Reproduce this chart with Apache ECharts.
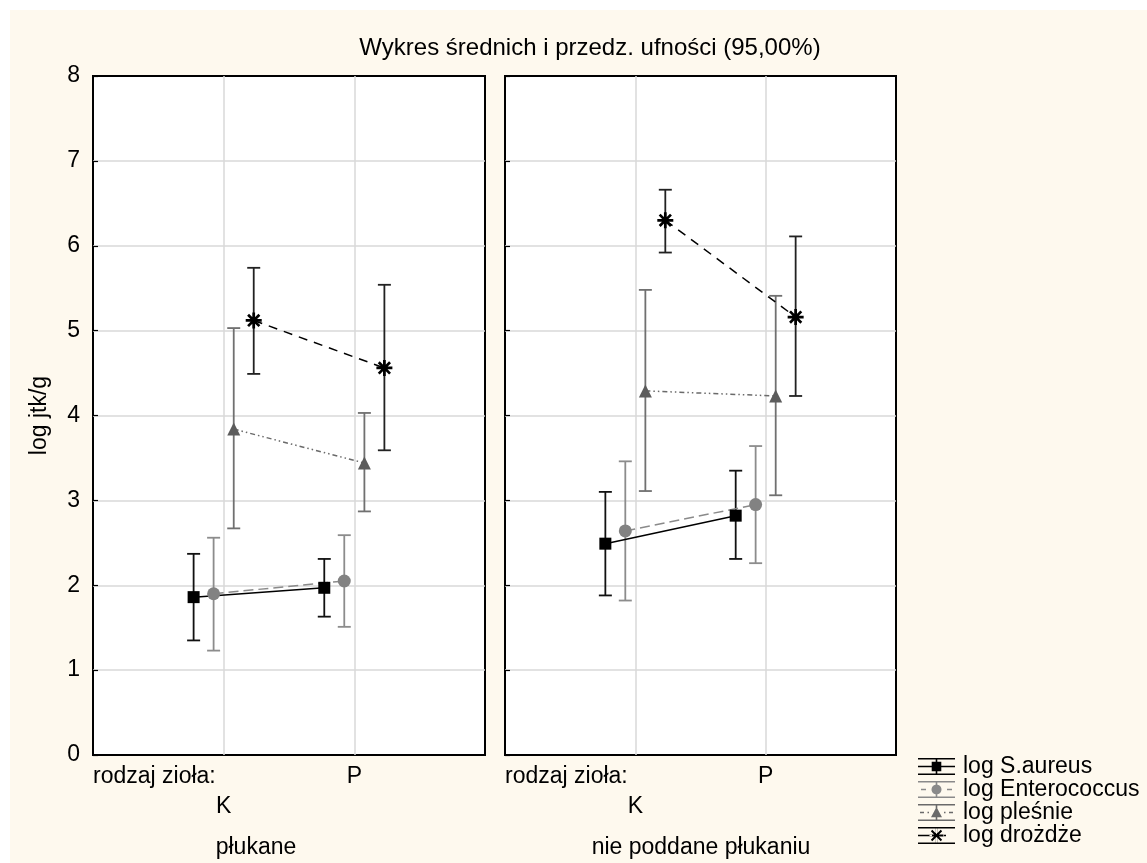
<!DOCTYPE html>
<html>
<head>
<meta charset="utf-8">
<script src="https://cdn.jsdelivr.net/npm/echarts@6/dist/echarts.min.js"></script>
<style>
  html, body { margin: 0; padding: 0; background: #ffffff; }
  #wrap { position: relative; width: 1147px; height: 863px; overflow: hidden; }
  #paper { position: absolute; left: 10px; top: 10px; right: 0; bottom: 0; background: #FEF9EE; }
  #chart { position: absolute; left: 0; top: 0; width: 1147px; height: 863px; }
</style>
</head>
<body>
<div id="wrap"><div id="paper"></div><div id="chart"></div></div>
<script>
// ---------------- data ----------------
const titleText = 'Wykres średnich i przedz. ufności (95,00%)';
const yAxisTitle = 'log jtk/g';
const factorLabel = 'rodzaj zioła:';
const categories = ['K', 'P'];
const groups = ['płukane', 'nie poddane płukaniu'];
const seriesNames = ['log S.aureus', 'log Enterococcus', 'log pleśnie', 'log drożdże'];
const yTicks = [0, 1, 2, 3, 4, 5, 6, 7, 8];

// order of values: [płukane K, płukane P, nie poddane K, nie poddane P]
const sAureusMean = [1.86, 1.97, 2.49, 2.82];
const sAureusLow  = [1.35, 1.63, 1.88, 2.31];
const sAureusHigh = [2.37, 2.31, 3.10, 3.35];

const enteroMean = [1.90, 2.05, 2.64, 2.95];
const enteroLow  = [1.23, 1.51, 1.82, 2.26];
const enteroHigh = [2.56, 2.59, 3.46, 3.64];

const plesnieMean = [3.84, 3.44, 4.29, 4.23];
const plesnieLow  = [2.67, 2.87, 3.11, 3.06];
const plesnieHigh = [5.03, 4.03, 5.48, 5.41];

const drozdzeMean = [5.12, 4.56, 6.30, 5.16];
const drozdzeLow  = [4.49, 3.59, 5.92, 4.23];
const drozdzeHigh = [5.74, 5.54, 6.66, 6.11];

const means = [sAureusMean, enteroMean, plesnieMean, drozdzeMean];
const lows = [sAureusLow, enteroLow, plesnieLow, drozdzeLow];
const highs = [sAureusHigh, enteroHigh, plesnieHigh, drozdzeHigh];

// ---------------- styles ----------------
const FONT = '"Liberation Sans", Arial, sans-serif';
const FS = 23;
const xOffsets = [-0.23, -0.077, 0.077, 0.23];       // horizontal dodge per series (axis units)
const lineColors = ['#000000', '#8a8a8a', '#6a6a6a', '#000000'];
const barColors = ['#111111', '#8c8c8c', '#707070', '#222222'];
const markerColors = ['#000000', '#828282', '#5c5c5c', '#000000'];
const lineTypes = ['solid', [10, 5], [5, 3, 1.5, 3, 1.5, 3], [9, 7]];
const CAP = 13;

function rectPath(x0, y0, x1, y1) {
  return 'M' + x0 + ',' + y0 + 'L' + x1 + ',' + y0 + 'L' + x1 + ',' + y1 + 'L' + x0 + ',' + y1 + 'Z';
}
function armPath(cx, cy, L, h, deg) {
  const t = deg * Math.PI / 180, dx = Math.cos(t), dy = Math.sin(t), nx = -dy, ny = dx;
  const pts = [[L * dx + h * nx, L * dy + h * ny], [L * dx - h * nx, L * dy - h * ny],
               [-L * dx - h * nx, -L * dy - h * ny], [-L * dx + h * nx, -L * dy + h * ny]];
  return pts.map((p, i) => (i ? 'L' : 'M') + (cx + p[0]).toFixed(2) + ',' + (cy + p[1]).toFixed(2)).join('') + 'Z';
}
function asterisk(cx, cy, L, h) {
  return [0, 45, 90, 135].map(d => armPath(cx, cy, L, h, d)).join('');
}
function circlePath(cx, cy, r) {
  let p = '';
  for (let k = 0; k < 24; k++) {
    const a = k / 24 * Math.PI * 2;
    p += (k ? 'L' : 'M') + (cx + r * Math.cos(a)).toFixed(2) + ',' + (cy + r * Math.sin(a)).toFixed(2);
  }
  return p + 'Z';
}
const asteriskSymbol = 'path://' + asterisk(10, 10, 10, 1.7);

// legend icons (37 x 17 box)
const IW = 37, IH = 17, MX = 18.5, MY = 8.5;
function frame(mid) {
  let p = rectPath(0, 0, IW, 1.6) + rectPath(0, IH - 1.6, IW, IH) + rectPath(MX - 0.8, 0, MX + 0.8, IH);
  mid.forEach(s => { p += rectPath(s[0], MY - 0.8, s[1], MY + 0.8); });
  return p;
}
const legendIcons = [
  'path://' + frame([[0, IW]]) + rectPath(MX - 4.8, MY - 4.8, MX + 4.8, MY + 4.8),
  'path://' + frame([[3, 8], [29, 34]]) + circlePath(MX, MY, 5),
  'path://' + frame([[2, 6], [9.5, 11], [26, 27.5], [31, 35]]) + 'M' + MX + ',' + (MY - 5.5) + 'L' + (MX + 5.5) + ',' + (MY + 4.8) + 'L' + (MX - 5.5) + ',' + (MY + 4.8) + 'Z',
  'path://' + frame([[0, 14], [26, 28]]) + asterisk(MX, MY, 7, 1.0)
];
const symbols = ['rect', 'circle', 'triangle', asteriskSymbol];
const symbolSizes = [12, 13, 13, 16];

// ---------------- option ----------------
const panelLeft = [93, 505];
const panelWidth = [392, 391];
const grids = panelLeft.map((l, i) => ({
  left: l, width: panelWidth[i], top: 76, bottom: 108,
  show: true, backgroundColor: '#ffffff', borderColor: '#000000', borderWidth: 2
}));

const xAxes = groups.map((g, i) => ({
  type: 'value', gridIndex: i, min: 0, max: categories.length + 1, interval: 1,
  axisLine: { show: false }, axisTick: { show: false },
  splitLine: { show: true, showMinLine: false, showMaxLine: false, lineStyle: { color: '#d8d8d8', width: 1.5 } },
  axisLabel: {
    show: true, margin: 7, alignMinLabel: 'left', color: '#000', fontFamily: FONT, fontSize: FS, lineHeight: 30,
    formatter: v => v === 0 ? factorLabel : (v >= 1 && v <= categories.length ? (v % 2 === 1 ? '\n' : '') + categories[v - 1] : '')
  }
}));

const yAxes = groups.map((g, i) => ({
  type: 'value', gridIndex: i, min: yTicks[0], max: yTicks[yTicks.length - 1], interval: 1,
  axisLine: { show: false },
  axisTick: { show: true, inside: true, length: 5, lineStyle: { color: '#000', width: 1.2 } },
  splitLine: { show: true, showMinLine: false, showMaxLine: false, lineStyle: { color: '#d8d8d8', width: 1.5 } },
  axisLabel: { show: i === 0, margin: 13, color: '#000', fontFamily: FONT, fontSize: FS },
  name: i === 0 ? yAxisTitle : '', nameLocation: 'middle', nameGap: 42,
  nameTextStyle: { color: '#000', fontFamily: FONT, fontSize: FS }
}));

const series = [];
// error bars
seriesNames.forEach((name, s) => {
  groups.forEach((g, gi) => {
    const data = categories.map((c, ci) => [ci + 1 + xOffsets[s], lows[s][gi * 2 + ci], highs[s][gi * 2 + ci]]);
    series.push({
      type: 'custom', xAxisIndex: gi, yAxisIndex: gi, z: 2, silent: true,
      encode: { x: 0, y: [1, 2] },
      data: data,
      renderItem: (params, api) => {
        const x = api.value(0);
        const pLo = api.coord([x, api.value(1)]);
        const pHi = api.coord([x, api.value(2)]);
        const st = { stroke: barColors[s], lineWidth: 1.8, fill: null };
        const h = CAP / 2;
        return {
          type: 'group', children: [
            { type: 'line', shape: { x1: pLo[0], y1: pHi[1], x2: pLo[0], y2: pLo[1] }, style: st },
            { type: 'line', shape: { x1: pHi[0] - h, y1: pHi[1], x2: pHi[0] + h, y2: pHi[1] }, style: st },
            { type: 'line', shape: { x1: pLo[0] - h, y1: pLo[1], x2: pLo[0] + h, y2: pLo[1] }, style: st }
          ]
        };
      }
    });
  });
});
// mean lines with markers
seriesNames.forEach((name, s) => {
  groups.forEach((g, gi) => {
    series.push({
      name: name, type: 'line', xAxisIndex: gi, yAxisIndex: gi, z: 3,
      data: categories.map((c, ci) => [ci + 1 + xOffsets[s], means[s][gi * 2 + ci]]),
      symbol: symbols[s], symbolSize: symbolSizes[s], showSymbol: true,
      lineStyle: { color: lineColors[s], width: 1.5, type: lineTypes[s] },
      itemStyle: { color: markerColors[s], borderWidth: 0 },
      silent: true, animation: false
    });
  });
});

const option = {
  backgroundColor: 'transparent',
  animation: false,
  title: {
    text: titleText, left: 585, top: 31, textAlign: 'center',
    textStyle: { color: '#000', fontFamily: FONT, fontSize: 24, fontWeight: 'normal' }
  },
  legend: {
    orient: 'vertical', left: 913, top: 750, itemGap: 0,
    itemWidth: IW, itemHeight: IH, selectedMode: false,
    itemStyle: { borderWidth: 0 },
    textStyle: { color: '#000', fontFamily: FONT, fontSize: FS, padding: [0, 0, 0, 3] },
    data: seriesNames.map((n, i) => ({ name: n, icon: legendIcons[i], itemStyle: { color: lineColors[i] } }))
  },
  grid: grids,
  xAxis: xAxes,
  yAxis: yAxes,
  graphic: groups.map((g, i) => ({
    type: 'text', x: i === 0 ? 256 : 701, y: 848,
    style: { text: g, fill: '#000', font: FS + 'px ' + FONT, align: 'center', verticalAlign: 'middle' }
  })),
  series: series
};

const chart = echarts.init(document.getElementById('chart'), null, { renderer: 'canvas' });
chart.setOption(option);
</script>
</body>
</html>
